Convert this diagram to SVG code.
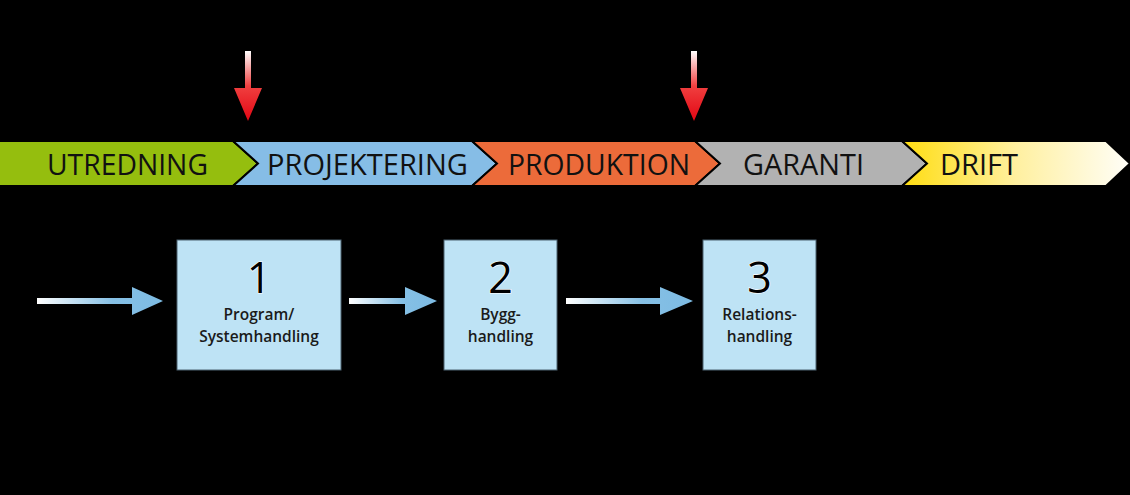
<svg xmlns="http://www.w3.org/2000/svg" width="1130" height="495" viewBox="0 0 1130 495">
<style>
.band{stroke:#000;stroke-width:2;stroke-linejoin:miter}
.bt{font-family:"Open Sans","Liberation Sans",sans-serif;font-size:29px;fill:#111}
.box{fill:#bee3f5;stroke:#4d6270;stroke-width:1}
.num{font-family:"Open Sans","Liberation Sans",sans-serif;font-size:43px;fill:#000;stroke:#fff;stroke-width:1.2;paint-order:stroke;text-anchor:middle}
.lbl{font-family:"Open Sans","Liberation Sans",sans-serif;font-size:15.5px;font-weight:600;fill:#1a1a1a;text-anchor:middle}
</style>
<defs>
<linearGradient id="gYel" x1="0" y1="0" x2="1" y2="0">
<stop offset="0" stop-color="#ffdd10"/>
<stop offset="0.5" stop-color="#fff0a0"/>
<stop offset="1" stop-color="#fffef8"/>
</linearGradient>
<linearGradient id="gRed" x1="0" y1="0" x2="0" y2="1">
<stop offset="0" stop-color="#ffffff"/>
<stop offset="0.5" stop-color="#f04040"/>
<stop offset="1" stop-color="#e30613"/>
</linearGradient>
<linearGradient id="gBlue" x1="0" y1="0" x2="1" y2="0">
<stop offset="0" stop-color="#ffffff"/>
<stop offset="0.6" stop-color="#86c0e5"/>
<stop offset="1" stop-color="#7dbbe3"/>
</linearGradient>
</defs>
<rect width="1130" height="495" fill="#000"/>
<g id="phases">
<g id="utredning">
<polygon class="band" fill="#95be0e" points="-2,141 233,141 258,163.5 233,186 -2,186"/>
<text class="bt" x="47" y="175" textLength="161" lengthAdjust="spacingAndGlyphs">UTREDNING</text>
</g>
<g id="projektering">
<polygon class="band" fill="#86bde6" points="233,141 472,141 497,163.5 472,186 233,186 258,163.5"/>
<text class="bt" x="267" y="175" textLength="201" lengthAdjust="spacingAndGlyphs">PROJEKTERING</text>
</g>
<g id="produktion">
<polygon class="band" fill="#ec6b3a" points="472,141 695,141 720,163.5 695,186 472,186 497,163.5"/>
<text class="bt" x="508" y="175" textLength="182" lengthAdjust="spacingAndGlyphs">PRODUKTION</text>
</g>
<g id="garanti">
<polygon class="band" fill="#b2b2b2" points="695,141 902,141 927,163.5 902,186 695,186 720,163.5"/>
<text class="bt" x="743" y="175" textLength="121" lengthAdjust="spacingAndGlyphs">GARANTI</text>
</g>
<g id="drift">
<polygon class="band" fill="url(#gYel)" points="902,141 1106,141 1130,163.5 1106,186 902,186 927,163.5"/>
<text class="bt" x="940" y="175" textLength="78" lengthAdjust="spacingAndGlyphs">DRIFT</text>
</g>
</g>
<g id="markers">
<polygon id="mark1" fill="url(#gRed)" points="245,51 251,51 251,88 262,88 248,121 234,88 245,88"/>
<polygon id="mark2" fill="url(#gRed)" points="691,51 697,51 697,88 708,88 694,121 680,88 691,88"/>
</g>
<g id="connectors">
<polygon fill="url(#gBlue)" points="37,298 132,298 132,287 163,301 132,315 132,304 37,304"/>
<polygon fill="url(#gBlue)" points="349,298 405,298 405,287 437,301 405,315 405,304 349,304"/>
<polygon fill="url(#gBlue)" points="566,298 660,298 660,287 693,301 660,315 660,304 566,304"/>
</g>
<g id="box1">
<rect class="box" x="177" y="240" width="164" height="130"/>
<text class="num" x="259" y="293">1</text>
<text class="lbl" x="259" y="320">Program/</text>
<text class="lbl" x="259" y="342">Systemhandling</text>
</g>
<g id="box2">
<rect class="box" x="444" y="240" width="113" height="130"/>
<text class="num" x="500.5" y="293">2</text>
<text class="lbl" x="500.5" y="320">Bygg-</text>
<text class="lbl" x="500.5" y="342">handling</text>
</g>
<g id="box3">
<rect class="box" x="703" y="240" width="113" height="130"/>
<text class="num" x="759.5" y="293">3</text>
<text class="lbl" x="759.5" y="320">Relations-</text>
<text class="lbl" x="759.5" y="342">handling</text>
</g>
</svg>
